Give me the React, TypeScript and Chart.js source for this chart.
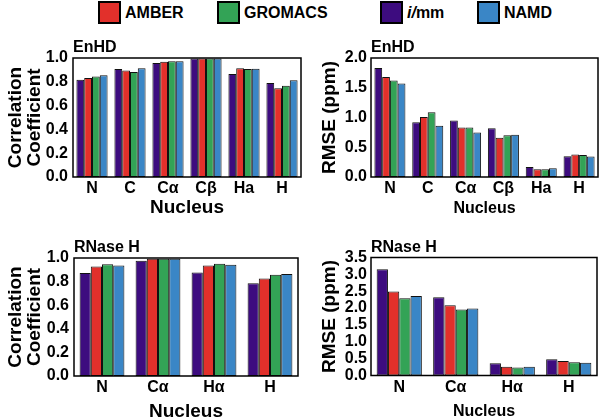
import React, { useEffect, useRef } from "react";
import { Chart, registerables } from "chart.js";

Chart.register(...registerables);

const FONT = "'Liberation Sans', Arial, Helvetica, sans-serif";

// ---- data ----
const seriesNames = ["i/mm", "AMBER", "GROMACS", "NAMD"];
const seriesColors = ["#3d0c7f", "#e2302b", "#33a356", "#3a86c6"];

const enhdCategories = ["N", "C", "Cα", "Cβ", "Ha", "H"];
const rnaseCategories = ["N", "Cα", "Hα", "H"];

const enhdCorrImm = [0.817, 0.907, 0.958, 0.995, 0.865, 0.789];
const enhdCorrAmber = [0.831, 0.896, 0.969, 0.995, 0.913, 0.746];
const enhdCorrGromacs = [0.845, 0.882, 0.972, 0.995, 0.907, 0.766];
const enhdCorrNamd = [0.856, 0.913, 0.972, 0.995, 0.91, 0.814];

const enhdRmseImm = [1.83, 0.92, 0.95, 0.82, 0.17, 0.35];
const enhdRmseAmber = [1.68, 1.01, 0.83, 0.66, 0.13, 0.38];
const enhdRmseGromacs = [1.62, 1.09, 0.83, 0.7, 0.13, 0.37];
const enhdRmseNamd = [1.57, 0.86, 0.75, 0.71, 0.145, 0.345];

const rnaseCorrImm = [0.872, 0.977, 0.878, 0.787];
const rnaseCorrAmber = [0.929, 0.994, 0.937, 0.827];
const rnaseCorrGromacs = [0.946, 0.994, 0.952, 0.858];
const rnaseCorrNamd = [0.937, 0.994, 0.943, 0.864];

const rnaseRmseImm = [3.15, 2.32, 0.36, 0.48];
const rnaseRmseAmber = [2.49, 2.08, 0.26, 0.43];
const rnaseRmseGromacs = [2.29, 1.96, 0.24, 0.39];
const rnaseRmseNamd = [2.36, 1.99, 0.26, 0.38];

const legendOrder = [1, 2, 0, 3]; // AMBER, GROMACS, i/mm, NAMD

type PanelProps = {
  left: number;
  top: number;
  width: number;
  height: number;
  padTop: number;
  padRight: number;
  yWidth: number;
  xHeight: number;
  yMax: number;
  yStep: number;
  title: string;
  categories: string[];
  series: number[][];
  yTitle: string | string[];
  yTitlePad: number;
  xTitleSize: number;
  xTitlePad: number;
  yTickPad: number;
  catPct: number;
};

const framePlugin = {
  id: "frameAndTitle",
  afterDraw(chart: any) {
    const { ctx, chartArea } = chart;
    ctx.save();
    ctx.strokeStyle = "#000";
    ctx.lineWidth = 1.5;
    ctx.strokeRect(
      chartArea.left,
      chartArea.top,
      chartArea.right - chartArea.left,
      chartArea.bottom - chartArea.top
    );
    const t = chart.options.plugins.panelTitle?.text;
    if (t) {
      ctx.fillStyle = "#000";
      ctx.font = `bold 16px ${FONT}`;
      ctx.textAlign = "left";
      ctx.textBaseline = "alphabetic";
      ctx.fillText(t, chartArea.left, chartArea.top - 6);
    }
    ctx.restore();
  },
};

function Panel(p: PanelProps) {
  const ref = useRef<HTMLCanvasElement | null>(null);
  useEffect(() => {
    if (!ref.current) return;
    const chart = new Chart(ref.current, {
      type: "bar",
      data: {
        labels: p.categories,
        datasets: p.series.map((vals, i) => ({
          label: seriesNames[i],
          data: vals,
          backgroundColor: seriesColors[i],
          borderColor: "#111",
          borderWidth: 1,
          borderSkipped: false,
          barPercentage: 1.0,
          categoryPercentage: p.catPct,
        })),
      },
      options: {
        animation: false,
        responsive: false,
        devicePixelRatio: 1,
        layout: { padding: { top: p.padTop, right: p.padRight, left: 0, bottom: 0 } },
        plugins: {
          legend: { display: false },
          tooltip: { enabled: false },
          title: { display: false },
          // @ts-ignore
          panelTitle: { text: p.title },
        },
        scales: {
          x: {
            grid: { display: false, drawTicks: false },
            border: { display: false },
            ticks: {
              color: "#000",
              font: { family: FONT, size: 16, weight: "bold" },
              padding: 2,
              maxRotation: 0,
              autoSkip: false,
            },
            title: {
              display: true,
              text: "Nucleus",
              color: "#000",
              font: { family: FONT, size: p.xTitleSize, weight: "bold", lineHeight: 1.2 },
              padding: { top: 0, bottom: p.xTitlePad },
            },
            afterFit: (scale: any) => {
              scale.height = p.xHeight;
            },
          },
          y: {
            min: 0,
            max: p.yMax,
            grid: { display: false, drawTicks: false },
            border: { display: false },
            ticks: {
              stepSize: p.yStep,
              autoSkip: false,
              color: "#000",
              font: { family: FONT, size: 16, weight: "bold" },
              padding: p.yTickPad,
              callback: (v: any) => Number(v).toFixed(1),
            },
            title: {
              display: true,
              text: p.yTitle,
              color: "#000",
              font: { family: FONT, size: 19, weight: "bold", lineHeight: 1.0 },
              padding: { top: p.yTitlePad, bottom: 0 },
            },
            afterFit: (scale: any) => {
              scale.width = p.yWidth;
            },
          },
        },
      } as any,
      plugins: [framePlugin],
    });
    return () => chart.destroy();
  }, []);
  return (
    <canvas
      ref={ref}
      width={p.width}
      height={p.height}
      style={{ position: "absolute", left: p.left, top: p.top, width: p.width, height: p.height }}
    />
  );
}

function Legend() {
  const boxLefts = [98, 217, 380, 477];
  return (
    <>
      {legendOrder.map((si, k) => (
        <div
          key={si}
          style={{
            position: "absolute",
            left: boxLefts[k],
            top: 1,
            height: 23,
            display: "flex",
            alignItems: "center",
            fontFamily: FONT,
            fontWeight: "bold",
            fontSize: 16,
            color: "#000",
            whiteSpace: "nowrap",
          }}
        >
          <span
            style={{
              display: "inline-block",
              width: 19,
              height: 19,
              background: seriesColors[si],
              border: "2px solid #000",
              marginRight: 4,
            }}
          />
          {seriesNames[si] === "i/mm" ? (
            <span>
              <span style={{ fontStyle: "italic" }}>i/</span>mm
            </span>
          ) : (
            <span>{seriesNames[si]}</span>
          )}
        </div>
      ))}
    </>
  );
}

export default function App() {
  return (
    <div
      style={{
        position: "fixed",
        left: 0,
        top: 0,
        width: 600,
        height: 419,
        overflow: "hidden",
        background: "#fff",
      }}
    >
      <Legend />
      <Panel
        left={0}
        top={0}
        width={302}
        height={220}
        padTop={58}
        padRight={1}
        yWidth={73}
        xHeight={43}
        yMax={1}
        yStep={0.2}
        title="EnHD"
        categories={enhdCategories}
        series={[enhdCorrImm, enhdCorrAmber, enhdCorrGromacs, enhdCorrNamd]}
        yTitle={["Correlation", "Coefficient"]}
        yTitlePad={6}
        xTitleSize={19}
        xTitlePad={1}
        yTickPad={5}
        catPct={0.82}
      />
      <Panel
        left={300}
        top={0}
        width={300}
        height={220}
        padTop={58}
        padRight={2}
        yWidth={71}
        xHeight={43}
        yMax={2}
        yStep={0.5}
        title="EnHD"
        categories={enhdCategories}
        series={[enhdRmseImm, enhdRmseAmber, enhdRmseGromacs, enhdRmseNamd]}
        yTitle="RMSE (ppm)"
        yTitlePad={20}
        xTitleSize={16}
        xTitlePad={1.4}
        yTickPad={4}
        catPct={0.82}
      />
      <Panel
        left={0}
        top={220}
        width={300}
        height={205}
        padTop={38}
        padRight={2}
        yWidth={74}
        xHeight={49}
        yMax={1}
        yStep={0.2}
        title="RNase H"
        categories={rnaseCategories}
        series={[rnaseCorrImm, rnaseCorrAmber, rnaseCorrGromacs, rnaseCorrNamd]}
        yTitle={["Correlation", "Coefficient"]}
        yTitlePad={6}
        xTitleSize={19}
        xTitlePad={2}
        yTickPad={5}
        catPct={0.8}
      />
      <Panel
        left={300}
        top={220}
        width={300}
        height={205}
        padTop={37.5}
        padRight={3}
        yWidth={71}
        xHeight={49.5}
        yMax={3.5}
        yStep={0.5}
        title="RNase H"
        categories={rnaseCategories}
        series={[rnaseRmseImm, rnaseRmseAmber, rnaseRmseGromacs, rnaseRmseNamd]}
        yTitle="RMSE (ppm)"
        yTitlePad={20}
        xTitleSize={16}
        xTitlePad={3.7}
        yTickPad={4}
        catPct={0.8}
      />
    </div>
  );
}
